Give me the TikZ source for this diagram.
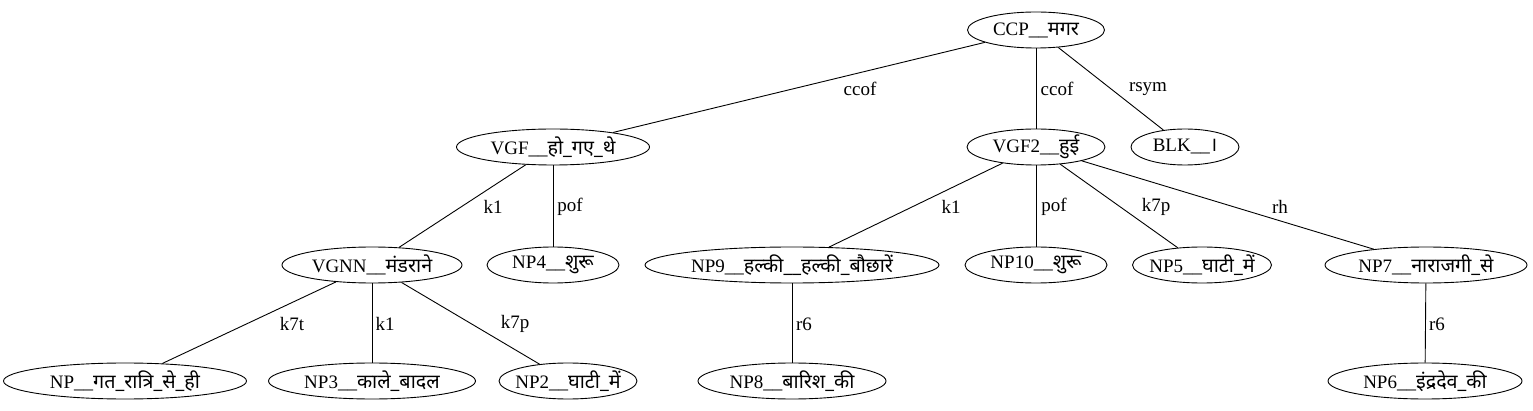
\documentclass[tikz,border=0pt]{standalone}
\usepackage{fontspec}
\setmainfont{Liberation Serif}
\newfontfamily\dev[Script=Devanagari,Scale=1.04]{Noto Sans}
\usetikzlibrary{shapes.geometric}
\newcommand\zb[1]{\makebox[0pt]{#1}}
\begin{document}
\begin{tikzpicture}[x=1pt,y=-1pt,
  nd/.style={draw, ellipse, inner sep=0pt, minimum height=36, line width=0.9pt, font=\fontsize{19}{22}\selectfont},
  lbl/.style={font=\fontsize{19}{22}\selectfont, inner sep=0pt},
  edge/.style={draw, line width=0.9pt}]
\useasboundingbox (0,0) rectangle (1533,411);
% level 0
\node[nd, minimum width=137] (ccp) at (1036,30) {\zb{CCP\_\_{\dev मगर}}};
% level 1
\node[nd, minimum width=193] (vgf) at (553,147) {\zb{VGF\_\_{\dev हो\_गए\_थे}}};
\node[nd, minimum width=138] (vgf2) at (1036,147) {\zb{VGF2\_\_{\dev हुई}}};
\node[nd, minimum width=108] (blk) at (1185,147) {\zb{BLK\_\_{\dev ।}}};
% level 2
\node[nd, minimum width=180] (vgnn) at (372,265) {\zb{VGNN\_\_{\dev मंडराने}}};
\node[nd, minimum width=132] (np4) at (553,265) {\zb{NP4\_\_{\dev शुरू}}};
\node[nd, minimum width=294] (np9) at (792,265) {\zb{NP9\_\_{\dev हल्की\_\_हल्की\_बौछारें}}};
\node[nd, minimum width=142] (np10) at (1036,265) {\zb{NP10\_\_{\dev शुरू}}};
\node[nd, minimum width=139] (np5) at (1202,265) {\zb{NP5\_\_{\dev घाटी\_में}}};
\node[nd, minimum width=202] (np7) at (1426,265) {\zb{NP7\_\_{\dev नाराजगी\_से}}};
% level 3
\node[nd, minimum width=243] (np) at (125,381) {\zb{NP\_\_{\dev गत\_रात्रि\_से\_ही}}};
\node[nd, minimum width=207] (np3) at (372,381) {\zb{NP3\_\_{\dev काले\_बादल}}};
\node[nd, minimum width=138] (np2) at (568,381) {\zb{NP2\_\_{\dev घाटी\_में}}};
\node[nd, minimum width=188] (np8) at (792,381) {\zb{NP8\_\_{\dev बारिश\_की}}};
\node[nd, minimum width=194] (np6) at (1425,381) {\zb{NP6\_\_{\dev इंद्रदेव\_की}}};
% edges
\draw[edge] (ccp) -- (vgf);
\draw[edge] (ccp) -- (vgf2);
\draw[edge] (ccp) -- (blk);
\draw[edge] (vgf) -- (vgnn);
\draw[edge] (vgf) -- (np4);
\draw[edge] (vgf2) -- (np9);
\draw[edge] (vgf2) -- (np10);
\draw[edge] (vgf2) -- (np5);
\draw[edge] (vgf2) -- (np7);
\draw[edge] (vgnn) -- (np);
\draw[edge] (vgnn) -- (np3);
\draw[edge] (vgnn) -- (np2);
\draw[edge] (np9) -- (np8);
\draw[edge] (np7) -- (np6);
% labels
\node[lbl] (l1) at (860,89) {ccof};
\node[lbl] (l2) at (1057,89) {ccof};
\node[lbl] (l3) at (1148,89) {rsym};
\node[lbl] (l4) at (493,207) {k1};
\node[lbl] (l5) at (570,207) {pof};
\node[lbl] (l6) at (951,207) {k1};
\node[lbl] (l7) at (1054,207) {pof};
\node[lbl] (l8) at (1156,207) {k7p};
\node[lbl] (l9) at (1280,207) {rh};
\node[lbl] (l10) at (292,324) {k7t};
\node[lbl] (l11) at (385,324) {k1};
\node[lbl] (l12) at (515,324) {k7p};
\node[lbl] (l13) at (804,324) {r6};
\node[lbl] (l14) at (1437,324) {r6};
\end{tikzpicture}
\end{document}
